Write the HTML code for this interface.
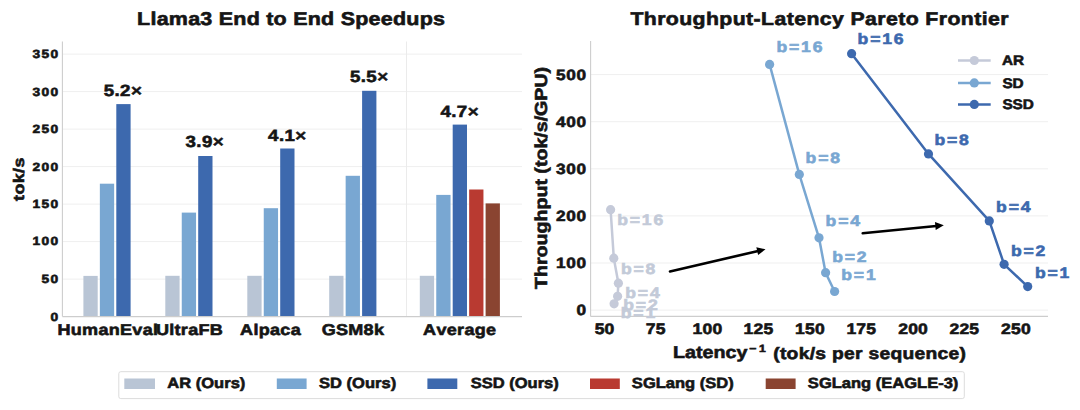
<!DOCTYPE html>
<html><head><meta charset="utf-8"><title>Llama3 End to End Speedups</title>
<style>html,body{margin:0;padding:0;background:#fff;width:1080px;height:410px;overflow:hidden}
svg{display:block;font-family:"Liberation Sans",sans-serif;font-weight:bold;font-kerning:none;text-rendering:geometricPrecision}</style></head>
<body><svg width="1080" height="410" viewBox="0 0 1080 410">
<rect width="1080" height="410" fill="#fff"/>
<line x1="62.4" y1="279.10" x2="522.0" y2="279.10" stroke="#efefef" stroke-width="1"/>
<line x1="62.4" y1="241.60" x2="522.0" y2="241.60" stroke="#efefef" stroke-width="1"/>
<line x1="62.4" y1="204.10" x2="522.0" y2="204.10" stroke="#efefef" stroke-width="1"/>
<line x1="62.4" y1="166.60" x2="522.0" y2="166.60" stroke="#efefef" stroke-width="1"/>
<line x1="62.4" y1="129.10" x2="522.0" y2="129.10" stroke="#efefef" stroke-width="1"/>
<line x1="62.4" y1="91.60" x2="522.0" y2="91.60" stroke="#efefef" stroke-width="1"/>
<line x1="62.4" y1="54.10" x2="522.0" y2="54.10" stroke="#efefef" stroke-width="1"/>
<line x1="406.5" y1="41.5" x2="406.5" y2="316.6" stroke="#ebebeb" stroke-width="1"/>
<rect x="83.40" y="275.90" width="14.3" height="40.70" fill="#b9c5d5"/>
<rect x="99.85" y="183.70" width="14.3" height="132.90" fill="#79a7d2"/>
<rect x="116.30" y="104.10" width="14.3" height="212.50" fill="#3d69ae"/>
<rect x="165.30" y="275.80" width="14.3" height="40.80" fill="#b9c5d5"/>
<rect x="181.75" y="212.60" width="14.3" height="104.00" fill="#79a7d2"/>
<rect x="198.20" y="156.00" width="14.3" height="160.60" fill="#3d69ae"/>
<rect x="247.30" y="275.80" width="14.3" height="40.80" fill="#b9c5d5"/>
<rect x="263.75" y="208.20" width="14.3" height="108.40" fill="#79a7d2"/>
<rect x="280.20" y="148.50" width="14.3" height="168.10" fill="#3d69ae"/>
<rect x="329.20" y="275.80" width="14.3" height="40.80" fill="#b9c5d5"/>
<rect x="345.65" y="175.80" width="14.3" height="140.80" fill="#79a7d2"/>
<rect x="362.10" y="90.80" width="14.3" height="225.80" fill="#3d69ae"/>
<rect x="419.80" y="275.80" width="14.3" height="40.80" fill="#b9c5d5"/>
<rect x="436.25" y="194.90" width="14.3" height="121.70" fill="#79a7d2"/>
<rect x="452.70" y="124.60" width="14.3" height="192.00" fill="#3d69ae"/>
<rect x="469.15" y="189.50" width="14.3" height="127.10" fill="#b93a31"/>
<rect x="485.60" y="203.40" width="14.3" height="113.20" fill="#8a4431"/>
<line x1="62.4" y1="41.5" x2="62.4" y2="316.6" stroke="#cdcdcd" stroke-width="1.1"/>
<line x1="62.4" y1="316.6" x2="522.0" y2="316.6" stroke="#cdcdcd" stroke-width="1.1"/>
<line x1="590.6" y1="310.12" x2="1048.0" y2="310.12" stroke="#efefef" stroke-width="1"/>
<line x1="590.6" y1="263.01" x2="1048.0" y2="263.01" stroke="#efefef" stroke-width="1"/>
<line x1="590.6" y1="215.91" x2="1048.0" y2="215.91" stroke="#efefef" stroke-width="1"/>
<line x1="590.6" y1="168.80" x2="1048.0" y2="168.80" stroke="#efefef" stroke-width="1"/>
<line x1="590.6" y1="121.70" x2="1048.0" y2="121.70" stroke="#efefef" stroke-width="1"/>
<line x1="590.6" y1="74.59" x2="1048.0" y2="74.59" stroke="#efefef" stroke-width="1"/>
<line x1="590.6" y1="41.0" x2="590.6" y2="316.4" stroke="#cdcdcd" stroke-width="1.1"/>
<line x1="590.6" y1="316.4" x2="1048.0" y2="316.4" stroke="#cdcdcd" stroke-width="1.1"/>
<polyline points="610.6,209.7 613.8,258.2 618.4,283.2 617.6,296.3 614.1,303.8" fill="none" stroke="#c5cad9" stroke-width="2.5" stroke-linejoin="round"/>
<circle cx="610.6" cy="209.7" r="4.6" fill="#c5cad9"/>
<circle cx="613.8" cy="258.2" r="4.6" fill="#c5cad9"/>
<circle cx="618.4" cy="283.2" r="4.6" fill="#c5cad9"/>
<circle cx="617.6" cy="296.3" r="4.6" fill="#c5cad9"/>
<circle cx="614.1" cy="303.8" r="4.6" fill="#c5cad9"/>
<polyline points="769.6,64.4 799.3,174.4 819.0,237.8 825.6,272.7 834.6,291.5" fill="none" stroke="#79a7d2" stroke-width="2.5" stroke-linejoin="round"/>
<circle cx="769.6" cy="64.4" r="4.6" fill="#79a7d2"/>
<circle cx="799.3" cy="174.4" r="4.6" fill="#79a7d2"/>
<circle cx="819.0" cy="237.8" r="4.6" fill="#79a7d2"/>
<circle cx="825.6" cy="272.7" r="4.6" fill="#79a7d2"/>
<circle cx="834.6" cy="291.5" r="4.6" fill="#79a7d2"/>
<polyline points="851.6,53.7 928.5,153.9 989.3,220.9 1004.1,264.3 1027.7,286.6" fill="none" stroke="#3d69ae" stroke-width="2.5" stroke-linejoin="round"/>
<circle cx="851.6" cy="53.7" r="4.6" fill="#3d69ae"/>
<circle cx="928.5" cy="153.9" r="4.6" fill="#3d69ae"/>
<circle cx="989.3" cy="220.9" r="4.6" fill="#3d69ae"/>
<circle cx="1004.1" cy="264.3" r="4.6" fill="#3d69ae"/>
<circle cx="1027.7" cy="286.6" r="4.6" fill="#3d69ae"/>
<line x1="670.0" y1="271.4" x2="758.19" y2="250.99" stroke="#000" stroke-width="2.6" stroke-linecap="round"/>
<polygon points="765.50,249.30 758.12,255.11 756.32,247.32" fill="#000"/>
<line x1="862.7" y1="233.2" x2="936.34" y2="225.94" stroke="#000" stroke-width="2.6" stroke-linecap="round"/>
<polygon points="943.80,225.20 935.73,230.02 934.95,222.05" fill="#000"/>
<line x1="958" y1="60.5" x2="990.7" y2="60.5" stroke="#c5cad9" stroke-width="2.5"/>
<circle cx="974.3" cy="60.5" r="4.6" fill="#c5cad9"/>
<line x1="958" y1="82.9" x2="990.7" y2="82.9" stroke="#79a7d2" stroke-width="2.5"/>
<circle cx="974.3" cy="82.9" r="4.6" fill="#79a7d2"/>
<line x1="958" y1="104.4" x2="990.7" y2="104.4" stroke="#3d69ae" stroke-width="2.5"/>
<circle cx="974.3" cy="104.4" r="4.6" fill="#3d69ae"/>
<rect x="118.8" y="371.7" width="845.5" height="26.9" rx="2" ry="2" fill="#fff" stroke="#dcdcdc" stroke-width="1"/>
<rect x="124.3" y="378.5" width="30.7" height="10.5" fill="#b9c5d5"/>
<rect x="276.8" y="378.5" width="29.8" height="10.5" fill="#79a7d2"/>
<rect x="427.4" y="378.5" width="29.9" height="10.5" fill="#3d69ae"/>
<rect x="590.0" y="378.5" width="29.8" height="10.5" fill="#b93a31"/>
<rect x="765.7" y="378.5" width="29.9" height="10.5" fill="#8a4431"/>
<text transform="translate(137.11,25.10) scale(1.1600,1)" font-size="18.53" letter-spacing="0.204" fill="#151515" stroke="#151515" stroke-width="0.6">Llama3 End to End Speedups</text>
<text transform="translate(630.41,25.00) scale(1.1600,1)" font-size="18.31" letter-spacing="0.357" fill="#151515" stroke="#151515" stroke-width="0.6">Throughput-Latency Pareto Frontier</text>
<text transform="translate(32.48,245.48) scale(1.1600,1)" font-size="11.86" letter-spacing="1.152" fill="#151515" stroke="#151515" stroke-width="0.6">100</text>
<text transform="translate(57.44,334.70) scale(1.1600,1)" font-size="15.55" letter-spacing="0.251" fill="#151515" stroke="#151515" stroke-width="0.6">HumanEval</text>
<text transform="translate(103.67,96.04) scale(1.1600,1)" font-size="16.10" letter-spacing="0.371" fill="#151515" stroke="#151515" stroke-width="0.6">5.2×</text>
<text transform="translate(23.79,200.97) rotate(-90) scale(1.1600,1)" font-size="15.31" letter-spacing="0.388" fill="#151515" stroke="#151515" stroke-width="0.6">tok/s</text>
<text transform="translate(556.12,79.56) scale(1.1600,1)" font-size="14.83" letter-spacing="0.490" fill="#151515" stroke="#151515" stroke-width="0.6">500</text>
<text transform="translate(692.54,334.05) scale(1.1600,1)" font-size="15.11" letter-spacing="0.163" fill="#151515" stroke="#151515" stroke-width="0.6">100</text>
<text transform="translate(673.03,358.30) scale(1.1482,1)" font-size="17.15" letter-spacing="0.000" fill="#151515" stroke="#151515" stroke-width="0.6">Latency</text>
<text transform="translate(749.34,351.50) scale(1.1600,1)" font-size="10.47" letter-spacing="2.159" fill="#151515" stroke="#151515" stroke-width="0.6">−1</text>
<text transform="translate(773.19,358.55) scale(1.1600,1)" font-size="16.63" letter-spacing="0.247" fill="#151515" stroke="#151515" stroke-width="0.6">(tok/s per sequence)</text>
<text transform="translate(546.51,289.08) rotate(-90) scale(1.1277,1)" font-size="17.40" letter-spacing="0.000" fill="#151515" stroke="#151515" stroke-width="0.6">Throughput (tok/s/GPU)</text>
<text transform="translate(857.59,44.25) scale(1.1600,1)" font-size="15.11" letter-spacing="1.592" fill="#3d69ae" stroke="#3d69ae" stroke-width="0.6">b=16</text>
<text transform="translate(1002.39,109.16) scale(1.1064,1)" font-size="13.84" letter-spacing="0.000" fill="#151515" stroke="#151515" stroke-width="0.6">SSD</text>
<text transform="translate(807.86,388.48) scale(1.1210,1)" font-size="14.74" letter-spacing="0.000" fill="#151515" stroke="#151515" stroke-width="0.6">SGLang (EAGLE-3)</text>
<text transform="translate(50.46,320.68) scale(1.1600,1)" font-size="11.86" letter-spacing="1.152" fill="#151515" stroke="#151515" stroke-width="0.6">0</text>
<text transform="translate(41.47,283.18) scale(1.1600,1)" font-size="11.86" letter-spacing="1.152" fill="#151515" stroke="#151515" stroke-width="0.6">50</text>
<text transform="translate(32.48,208.18) scale(1.1600,1)" font-size="11.86" letter-spacing="1.152" fill="#151515" stroke="#151515" stroke-width="0.6">150</text>
<text transform="translate(32.48,170.68) scale(1.1600,1)" font-size="11.86" letter-spacing="1.152" fill="#151515" stroke="#151515" stroke-width="0.6">200</text>
<text transform="translate(32.48,133.18) scale(1.1600,1)" font-size="11.86" letter-spacing="1.152" fill="#151515" stroke="#151515" stroke-width="0.6">250</text>
<text transform="translate(32.48,95.68) scale(1.1600,1)" font-size="11.86" letter-spacing="1.152" fill="#151515" stroke="#151515" stroke-width="0.6">300</text>
<text transform="translate(32.48,58.18) scale(1.1600,1)" font-size="11.86" letter-spacing="1.152" fill="#151515" stroke="#151515" stroke-width="0.6">350</text>
<text transform="translate(155.92,334.70) scale(1.1600,1)" font-size="15.55" letter-spacing="0.251" fill="#151515" stroke="#151515" stroke-width="0.6">UltraFB</text>
<text transform="translate(240.11,334.70) scale(1.1600,1)" font-size="15.55" letter-spacing="0.251" fill="#151515" stroke="#151515" stroke-width="0.6">Alpaca</text>
<text transform="translate(321.66,334.70) scale(1.1600,1)" font-size="15.55" letter-spacing="0.251" fill="#151515" stroke="#151515" stroke-width="0.6">GSM8k</text>
<text transform="translate(423.11,334.70) scale(1.1600,1)" font-size="15.55" letter-spacing="0.251" fill="#151515" stroke="#151515" stroke-width="0.6">Average</text>
<text transform="translate(185.55,146.98) scale(1.1600,1)" font-size="16.10" letter-spacing="0.371" fill="#151515" stroke="#151515" stroke-width="0.6">3.9×</text>
<text transform="translate(268.07,140.89) scale(1.1600,1)" font-size="16.10" letter-spacing="0.371" fill="#151515" stroke="#151515" stroke-width="0.6">4.1×</text>
<text transform="translate(349.92,82.46) scale(1.1600,1)" font-size="16.10" letter-spacing="0.371" fill="#151515" stroke="#151515" stroke-width="0.6">5.5×</text>
<text transform="translate(440.42,116.64) scale(1.1600,1)" font-size="16.10" letter-spacing="0.371" fill="#151515" stroke="#151515" stroke-width="0.6">4.7×</text>
<text transform="translate(576.39,315.23) scale(1.1600,1)" font-size="14.83" letter-spacing="0.490" fill="#151515" stroke="#151515" stroke-width="0.6">0</text>
<text transform="translate(556.12,268.12) scale(1.1600,1)" font-size="14.83" letter-spacing="0.490" fill="#151515" stroke="#151515" stroke-width="0.6">100</text>
<text transform="translate(556.12,221.01) scale(1.1600,1)" font-size="14.83" letter-spacing="0.490" fill="#151515" stroke="#151515" stroke-width="0.6">200</text>
<text transform="translate(556.12,173.90) scale(1.1600,1)" font-size="14.83" letter-spacing="0.490" fill="#151515" stroke="#151515" stroke-width="0.6">300</text>
<text transform="translate(556.12,126.80) scale(1.1600,1)" font-size="14.83" letter-spacing="0.490" fill="#151515" stroke="#151515" stroke-width="0.6">400</text>
<text transform="translate(594.65,334.05) scale(1.1600,1)" font-size="15.11" letter-spacing="0.163" fill="#151515" stroke="#151515" stroke-width="0.6">50</text>
<text transform="translate(645.85,334.05) scale(1.1600,1)" font-size="15.11" letter-spacing="0.163" fill="#151515" stroke="#151515" stroke-width="0.6">75</text>
<text transform="translate(743.55,334.05) scale(1.1600,1)" font-size="15.11" letter-spacing="0.163" fill="#151515" stroke="#151515" stroke-width="0.6">125</text>
<text transform="translate(795.09,334.05) scale(1.1600,1)" font-size="15.11" letter-spacing="0.163" fill="#151515" stroke="#151515" stroke-width="0.6">150</text>
<text transform="translate(846.40,334.05) scale(1.1600,1)" font-size="15.11" letter-spacing="0.163" fill="#151515" stroke="#151515" stroke-width="0.6">175</text>
<text transform="translate(898.19,334.05) scale(1.1600,1)" font-size="15.11" letter-spacing="0.163" fill="#151515" stroke="#151515" stroke-width="0.6">200</text>
<text transform="translate(949.50,334.05) scale(1.1600,1)" font-size="15.11" letter-spacing="0.163" fill="#151515" stroke="#151515" stroke-width="0.6">225</text>
<text transform="translate(1001.04,334.05) scale(1.1600,1)" font-size="15.11" letter-spacing="0.163" fill="#151515" stroke="#151515" stroke-width="0.6">250</text>
<text transform="translate(934.39,144.60) scale(1.1600,1)" font-size="15.11" letter-spacing="1.592" fill="#3d69ae" stroke="#3d69ae" stroke-width="0.6">b=8</text>
<text transform="translate(996.09,212.15) scale(1.1600,1)" font-size="15.11" letter-spacing="1.592" fill="#3d69ae" stroke="#3d69ae" stroke-width="0.6">b=4</text>
<text transform="translate(1010.89,256.05) scale(1.1600,1)" font-size="15.11" letter-spacing="1.592" fill="#3d69ae" stroke="#3d69ae" stroke-width="0.6">b=2</text>
<text transform="translate(1034.99,277.65) scale(1.1600,1)" font-size="15.11" letter-spacing="1.592" fill="#3d69ae" stroke="#3d69ae" stroke-width="0.6">b=1</text>
<text transform="translate(776.49,52.35) scale(1.1600,1)" font-size="15.11" letter-spacing="1.592" fill="#79a7d2" stroke="#79a7d2" stroke-width="0.6">b=16</text>
<text transform="translate(805.59,162.65) scale(1.1600,1)" font-size="15.11" letter-spacing="1.592" fill="#79a7d2" stroke="#79a7d2" stroke-width="0.6">b=8</text>
<text transform="translate(825.59,226.10) scale(1.1600,1)" font-size="15.11" letter-spacing="1.592" fill="#79a7d2" stroke="#79a7d2" stroke-width="0.6">b=4</text>
<text transform="translate(832.19,261.85) scale(1.1600,1)" font-size="15.11" letter-spacing="1.592" fill="#79a7d2" stroke="#79a7d2" stroke-width="0.6">b=2</text>
<text transform="translate(841.29,280.40) scale(1.1600,1)" font-size="15.11" letter-spacing="1.592" fill="#79a7d2" stroke="#79a7d2" stroke-width="0.6">b=1</text>
<text transform="translate(617.19,224.75) scale(1.1600,1)" font-size="15.11" letter-spacing="1.592" fill="#c3cad8" stroke="#c3cad8" stroke-width="0.6">b=16</text>
<text transform="translate(620.99,273.85) scale(1.1600,1)" font-size="15.11" letter-spacing="1.592" fill="#c3cad8" stroke="#c3cad8" stroke-width="0.6">b=8</text>
<text transform="translate(625.29,297.65) scale(1.1600,1)" font-size="15.11" letter-spacing="1.592" fill="#c3cad8" stroke="#c3cad8" stroke-width="0.6">b=4</text>
<text transform="translate(623.29,310.40) scale(1.1600,1)" font-size="15.11" letter-spacing="1.592" fill="#c3cad8" stroke="#c3cad8" stroke-width="0.6">b=2</text>
<text transform="translate(620.79,318.40) scale(1.1600,1)" font-size="15.11" letter-spacing="1.592" fill="#c3cad8" stroke="#c3cad8" stroke-width="0.6">b=1</text>
<text transform="translate(1002.05,65.46) scale(1.1064,1)" font-size="13.84" letter-spacing="0.000" fill="#151515" stroke="#151515" stroke-width="0.6">AR</text>
<text transform="translate(1002.39,87.51) scale(1.1064,1)" font-size="13.84" letter-spacing="0.000" fill="#151515" stroke="#151515" stroke-width="0.6">SD</text>
<text transform="translate(167.32,388.48) scale(1.1210,1)" font-size="14.74" letter-spacing="0.000" fill="#151515" stroke="#151515" stroke-width="0.6">AR (Ours)</text>
<text transform="translate(319.06,388.48) scale(1.1210,1)" font-size="14.74" letter-spacing="0.000" fill="#151515" stroke="#151515" stroke-width="0.6">SD (Ours)</text>
<text transform="translate(470.66,388.48) scale(1.1210,1)" font-size="14.74" letter-spacing="0.000" fill="#151515" stroke="#151515" stroke-width="0.6">SSD (Ours)</text>
<text transform="translate(631.86,388.48) scale(1.1210,1)" font-size="14.74" letter-spacing="0.000" fill="#151515" stroke="#151515" stroke-width="0.6">SGLang (SD)</text>
</svg></body></html>
